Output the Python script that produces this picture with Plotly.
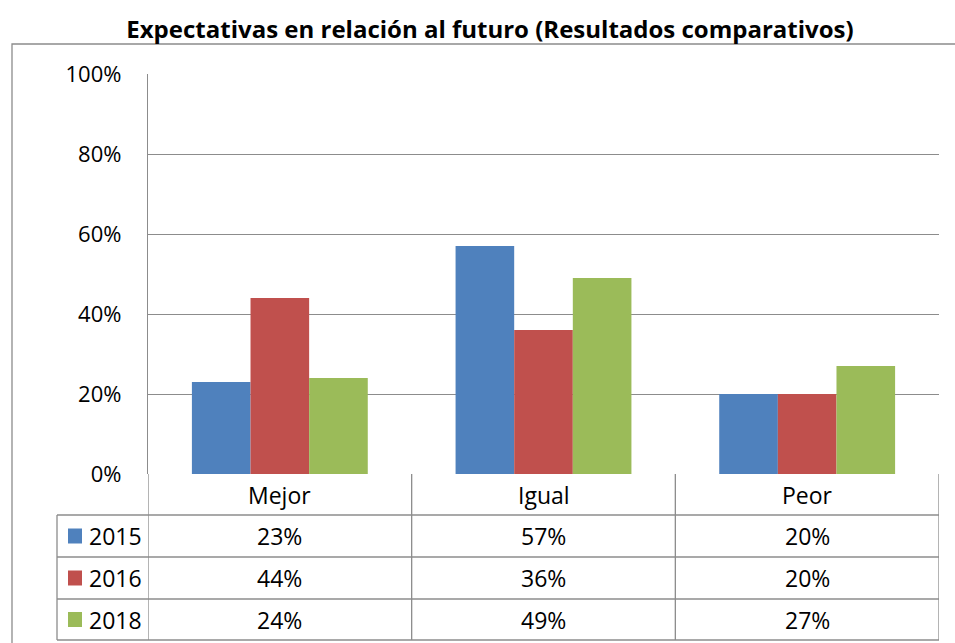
import plotly.graph_objects as go

categories = ["Mejor", "Igual", "Peor"]
years = ["2015", "2016", "2018"]
values_2015 = [0.23, 0.57, 0.20]
values_2016 = [0.44, 0.36, 0.20]
values_2018 = [0.24, 0.49, 0.27]
colors = ["#4F81BD", "#C0504D", "#9BBB59"]
title_text = "Expectativas en relación al futuro (Resultados comparativos)"

series = [values_2015, values_2016, values_2018]

W, H = 955, 643
L, R, T, B = 148, 939, 74, 474
PW, PH = R - L, B - T

def px(p):
    return (p - L) / PW

def py(p):
    return (B - p) / PH

FONT = "Open Sans"
GRID = "#8c8c8c"
FS = 23

fig = go.Figure()
for name, vals, col in zip(years, series, colors):
    fig.add_trace(go.Bar(x=categories, y=vals, name=name, marker=dict(color=col, line=dict(width=0)),
                         showlegend=False, hoverinfo="skip"))

shapes = []
annotations = []

# outer chart border
shapes.append(dict(type="rect", xref="paper", yref="paper", x0=px(12), x1=px(962), y0=py(652), y1=py(44),
                   line=dict(color=GRID, width=1.3), layer="below"))

# data table lines
row_y = [474, 515, 557, 599, 640]
for yy in row_y[1:]:
    shapes.append(dict(type="line", xref="paper", yref="paper", x0=px(57), x1=1, y0=py(yy), y1=py(yy),
                       line=dict(color=GRID, width=1.3)))
shapes.append(dict(type="line", xref="paper", yref="paper", x0=px(57), x1=px(57), y0=py(515), y1=py(640),
                   line=dict(color=GRID, width=1.3)))
for i in range(len(categories) + 1):
    xb = i - 0.5
    shapes.append(dict(type="line", xref="x", yref="paper", x0=xb, x1=xb, y0=py(474), y1=py(640),
                       line=dict(color=GRID, width=1.3)))

for c in categories:
    annotations.append(dict(x=c, xref="x", y=py(494.5), yref="paper", text=c, showarrow=False,
                            font=dict(family=FONT, size=FS, color="#000000"), xanchor="center", yanchor="middle"))

for r, (name, vals, col) in enumerate(zip(years, series, colors)):
    yc = (row_y[r + 1] + row_y[r + 2]) / 2
    for c, v in zip(categories, vals):
        annotations.append(dict(x=c, xref="x", y=py(yc), yref="paper", text=f"{round(v*100)}%", showarrow=False,
                                font=dict(family=FONT, size=FS, color="#000000"), xanchor="center", yanchor="middle"))
    shapes.append(dict(type="rect", xref="paper", yref="paper", x0=px(68), x1=px(82), y0=py(yc + 7.5), y1=py(yc - 7.5),
                       fillcolor=col, line=dict(width=0)))
    annotations.append(dict(x=px(87), xref="paper", y=py(yc), yref="paper", text=name, showarrow=False,
                            font=dict(family=FONT, size=FS, color="#000000"), xanchor="left", yanchor="middle"))

fig.update_layout(
    width=W, height=H,
    margin=dict(l=L, r=W - R, t=T, b=H - B),
    paper_bgcolor="white", plot_bgcolor="white",
    barmode="group", bargap=0.333, bargroupgap=0,
    title=dict(text=f"<b>{title_text}</b>", x=490 / W, xanchor="center", y=1 - 30 / H, yanchor="middle",
               font=dict(family=FONT, size=24, color="#000000")),
    xaxis=dict(range=[-0.5, 2.5], showticklabels=False, showgrid=False, showline=False, zeroline=False,
               ticks=""),
    yaxis=dict(range=[0, 1], tickvals=[0, 0.2, 0.4, 0.6, 0.8, 1.0], tickformat=".0%", showgrid=True,
               gridcolor=GRID, gridwidth=1.3, showline=True, linecolor=GRID, linewidth=1.3, zeroline=False,
               ticks="", ticklabelstandoff=21, tickfont=dict(family=FONT, size=22, color="#000000")),
    shapes=shapes, annotations=annotations,
)

fig.write_html("out.html", config={"displayModeBar": False},
               post_script="document.body.style.margin='0';")
